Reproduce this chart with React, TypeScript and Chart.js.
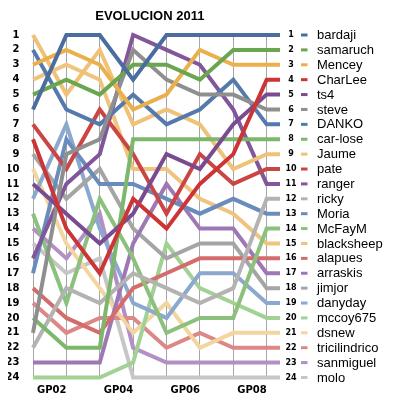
import React, { useEffect, useRef } from "react";
import { Chart, registerables } from "chart.js";

Chart.register(...registerables);

const TITLE = "EVOLUCION 2011";
const ROUNDS = ["GP01", "GP02", "GP03", "GP04", "GP05", "GP06", "GP07", "GP08"];
const ROUND_INDEX = [1, 2, 3, 4, 5, 6, 7, 8];
const TAIL_X = 8.4;
const RANKS = Array.from({ length: 24 }, (_, i) => i + 1);

const bardaji = [6, 1, 1, 4, 1, 1, 1, 1];
const samaruch = [5, 4, 5, 3, 3, 4, 2, 2];
const Mencey = [3, 2, 3, 6, 5, 2, 3, 3];
const CharLee = [8, 14, 17, 12, 14, 11, 9, 4];
const ts4 = [11, 13, 15, 13, 9, 10, 7, 5];
const steve = [21, 9, 8, 2, 4, 5, 5, 6];
const DANKO = [2, 6, 7, 5, 7, 6, 4, 7];
const carLose = [20, 22, 22, 8, 8, 8, 8, 8];
const Jaume = [1, 5, 2, 7, 6, 7, 10, 9];
const pate = [7, 10, 6, 9, 13, 9, 11, 10];
const ranger = [16, 11, 9, 1, 2, 3, 6, 11];
const ricky = [22, 18, 19, 17, 18, 19, 18, 12];
const Moria = [17, 8, 11, 11, 12, 13, 12, 13];
const McFayM = [13, 19, 12, 16, 21, 20, 20, 14];
const blacksheep = [4, 3, 4, 10, 10, 12, 13, 15];
const alapues = [18, 20, 21, 18, 17, 16, 16, 16];
const arraskis = [23, 23, 23, 15, 11, 14, 14, 17];
const jimjor = [9, 12, 10, 14, 16, 15, 15, 18];
const danyday = [12, 7, 14, 19, 20, 17, 17, 19];
const mccoy675 = [24, 24, 24, 23, 15, 18, 19, 20];
const dsnew = [10, 15, 18, 21, 19, 22, 21, 21];
const tricilindrico = [19, 21, 20, 20, 22, 21, 22, 22];
const sanmiguel = [14, 16, 13, 22, 23, 23, 23, 23];
const molo = [15, 17, 16, 24, 24, 24, 24, 24];

const NAMES = [
  "bardaji", "samaruch", "Mencey", "CharLee", "ts4", "steve", "DANKO", "car-lose",
  "Jaume", "pate", "ranger", "ricky", "Moria", "McFayM", "blacksheep", "alapues",
  "arraskis", "jimjor", "danyday", "mccoy675", "dsnew", "tricilindrico", "sanmiguel", "molo",
];
const SERIES = [
  bardaji, samaruch, Mencey, CharLee, ts4, steve, DANKO, carLose,
  Jaume, pate, ranger, ricky, Moria, McFayM, blacksheep, alapues,
  arraskis, jimjor, danyday, mccoy675, dsnew, tricilindrico, sanmiguel, molo,
];
const COLORS = [
  "#4a6c9f", "#6aa64f", "#eab04c", "#cc3535", "#7b4b91", "#8f8f8f", "#5479ad", "#7db76c",
  "#efc277", "#cc4545", "#82569a", "#b3b3b3", "#6a8cbd", "#8cc17d", "#f0c47e", "#d46c6c",
  "#9e78b5", "#a5a5a5", "#8ba8cf", "#a2d194", "#f3d5a0", "#dd8787", "#b28fc5", "#c6c6c6",
];

const FONT_AXIS = '"DejaVu Sans", Verdana, sans-serif';
const FONT_TEXT = '"Liberation Sans", Arial, Helvetica, sans-serif';

const sidePlugin = {
  id: "sideText",
  afterDraw(chart: any) {
    const { ctx, scales } = chart;
    const xs = scales.x;
    const ys = scales.y;
    ctx.save();
    ctx.fillStyle = "#000";
    ctx.font = `bold 13px ${FONT_TEXT}`;
    ctx.textAlign = "center";
    ctx.textBaseline = "alphabetic";
    const cx =
      (xs.getPixelForValue(ROUND_INDEX[0]) +
        xs.getPixelForValue(ROUND_INDEX[ROUND_INDEX.length - 1])) / 2;
    ctx.fillText(TITLE, cx, 12);

    const tail = xs.getPixelForValue(TAIL_X);
    SERIES.forEach((ranks, i) => {
      const rank = ranks[ranks.length - 1];
      const py = ys.getPixelForValue(rank);
      ctx.fillStyle = "#000";
      ctx.font = `bold 8px ${FONT_AXIS}`;
      ctx.textAlign = "center";
      ctx.textBaseline = "middle";
      ctx.fillText(String(rank), tail + 11, py);
      ctx.fillStyle = COLORS[i];
      ctx.fillRect(tail + 21, py - 1.5, 6.5, 3);
      ctx.fillStyle = "#000";
      ctx.font = `13px ${FONT_TEXT}`;
      ctx.textAlign = "left";
      ctx.fillText(NAMES[i], tail + 37, py + 0.5);
    });
    ctx.restore();
  },
};

export default function App() {
  const ref = useRef<HTMLCanvasElement | null>(null);
  useEffect(() => {
    if (!ref.current) return;
    const datasets = SERIES.map((ranks, i) => ({
      label: NAMES[i],
      data: [
        ...ranks.map((r, j) => ({ x: ROUND_INDEX[j], y: r })),
        { x: TAIL_X, y: ranks[ranks.length - 1] },
      ],
      borderColor: COLORS[i],
      backgroundColor: COLORS[i],
      borderWidth: 4,
      pointRadius: 0,
      pointHoverRadius: 0,
      tension: 0,
      fill: false,
      clip: false as any,
    }));
    const chart = new Chart(ref.current, {
      type: "line",
      data: { datasets },
      options: {
        animation: false,
        responsive: false,
        events: [],
        layout: { padding: { top: 27, right: 106, left: 0, bottom: 0 } },
        plugins: {
          legend: { display: false },
          title: { display: false },
          tooltip: { enabled: false },
        },
        scales: {
          x: {
            type: "linear",
            min: ROUND_INDEX[0],
            max: TAIL_X,
            afterBuildTicks: (scale: any) => {
              scale.ticks = ROUND_INDEX.map((v) => ({ value: v }));
            },
            afterFit: (scale: any) => {
              scale.height = 17;
            },
            grid: { color: "#a6a6a6", lineWidth: 1, drawTicks: false },
            border: { display: false },
            ticks: {
              autoSkip: false,
              maxRotation: 0,
              align: "end",
              padding: 7,
              color: "#000",
              font: { family: FONT_AXIS, size: 10, weight: "bold" },
              callback: (v: any) => (v % 2 === 0 ? ROUNDS[v - 1] : ""),
            },
          },
          y: {
            type: "linear",
            reverse: true,
            min: RANKS[0],
            max: RANKS[RANKS.length - 1],
            afterBuildTicks: (scale: any) => {
              scale.ticks = RANKS.map((v) => ({ value: v }));
            },
            afterFit: (scale: any) => {
              scale.width = 25;
            },
            grid: { display: false, drawTicks: false },
            border: { display: false },
            ticks: {
              autoSkip: false,
              padding: 13.5,
              color: "#000",
              font: { family: FONT_AXIS, size: 10, weight: "bold" },
              callback: (v: any) => String(v),
            },
          },
        },
      },
      plugins: [sidePlugin],
    });
    return () => chart.destroy();
  }, []);
  return (
    <div style={{ width: 378, height: 389 }}>
      <canvas ref={ref} width={378} height={389} />
    </div>
  );
}
